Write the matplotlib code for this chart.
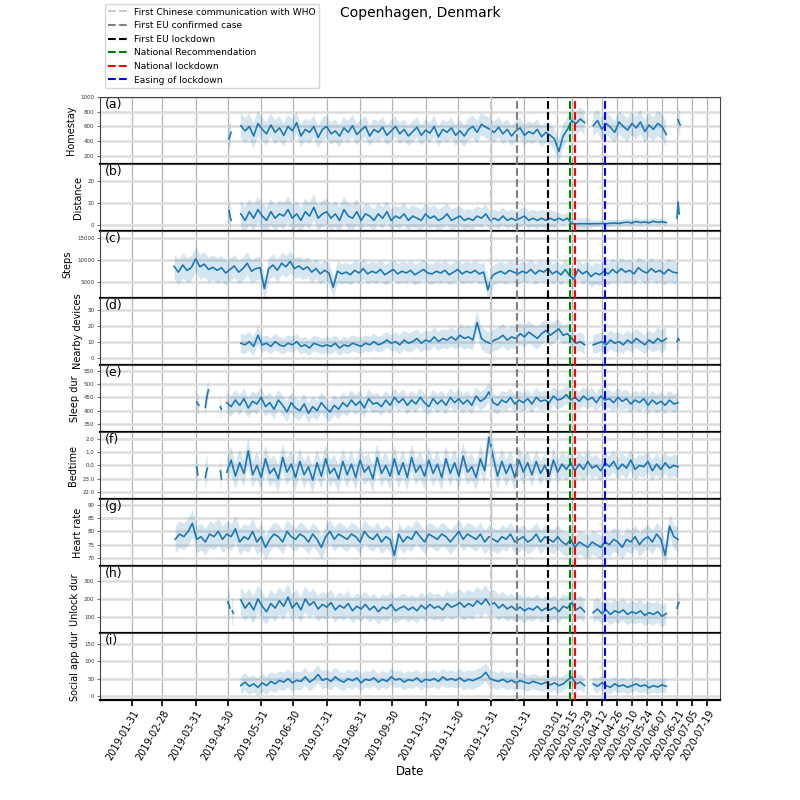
import numpy as np
import pandas as pd
import matplotlib
matplotlib.use('Agg')
import matplotlib.pyplot as plt
from matplotlib.lines import Line2D

N = np.nan

# ---------------- event lines ----------------
event_dates = ['2019-12-31', '2020-01-24', '2020-02-22', '2020-03-13', '2020-03-18', '2020-04-15']
event_labels = ['First Chinese communication with WHO', 'First EU confirmed case', 'First EU lockdown',
                'National Recommendation', 'National lockdown', 'Easing of lockdown']
event_colors = ['#c8c8c8', 'gray', 'black', 'green', 'red', 'blue']

tick_dates = ['2019-01-31', '2019-02-28', '2019-03-31', '2019-04-30', '2019-05-31', '2019-06-30',
              '2019-07-31', '2019-08-31', '2019-09-30', '2019-10-31', '2019-11-30', '2019-12-31',
              '2020-01-31', '2020-03-01', '2020-03-15', '2020-03-29', '2020-04-12', '2020-04-26',
              '2020-05-10', '2020-05-24', '2020-06-07', '2020-06-21', '2020-07-05', '2020-07-19']

# ---------------- series (segments: start date, step in days, values) ----------------
homestay_segments = [
    ('2019-05-01', 1, [430, 480, 520]),
    ('2019-05-12', 4, [610, 540, 600, 470, 640, 560, 500, 620, 520, 580,
                       480, 600, 540, 650, 470, 560, 520, 600, 450, 560,
                       600, 500, 540, 470, 580, 520, 610, 490, 550, 600,
                       470, 560, 520, 590, 480, 540, 600, 500, 560, 470,
                       530, 590, 480, 550, 510, 600, 460, 560, 520, 580,
                       480, 540, 470, 560, 600, 520, 630, 590, 560, 520,
                       590, 500, 560, 470, 540, 580, 480, 530, 500, 560,
                       460, 520, 480, 430, 260, 470, 560, 680, 640, 700,
                       650, N, 610, 680, 560, 640, 590, 520, 660, 600,
                       550, 640, 580, 660, 530, 620, 560, 640, 600, 490]),
    ('2020-06-22', 1, [690, 650, 620]),
]
homestay_sd = ('2019-05', [170, 160, 150, 150, 140, 140, 140, 150, 140, 140, 160, 150, 160, 170])

distance_segments = [
    ('2019-05-01', 1, [6.5, 4, 2]),
    ('2019-05-12', 4, [5, 2, 6, 3, 7, 4, 2, 6, 3, 5,
                       4, 7, 3, 5, 2, 6, 4, 8, 3, 5,
                       6, 3, 5, 2, 7, 4, 3, 6, 2, 5,
                       4, 2, 5, 3, 6, 2, 4, 3, 5, 2,
                       4, 3, 2, 5, 3, 4, 2, 3, 5, 2,
                       3, 4, 2, 3, 2, 4, 3, 5, 2, 3,
                       2, 4, 2, 3, 2, 3, 4, 2, 3, 2,
                       3, 2, 3, 2, 3, 2, 3, 0.5, 0.4, 0.5,
                       0.5, 0.4, 0.5, 0.5, 0.6, 0.5, 0.7, 0.8, 0.6, 1.0,
                       1.2, 0.8, 1.5, 1.0, 1.3, 0.9, 1.6, 1.1, 1.4, 1.0]),
    ('2020-06-21', 1, [3, 10.5, 5]),
]
distance_sd = ('2019-05', [6, 6, 6, 6, 5, 5, 5, 4.5, 4, 4, 2.5, 1.5, 1.5, 1.5])

steps_segments = [
    ('2019-03-11', 4, [8500, 7200, 8800, 7600, 8200, 10200, 8400, 9000, 7800, 8300,
                       7600, 8200, 7000, 7800, 8600, 7200, 8000, 9200, 7400, 8000,
                       8200, 3500, 8000, 8800, 7600, 9200, 8400, 9600, 8000, 8600,
                       7800, 8400, 7200, 8000, 6800, 7600, 7000, 3800, 7400, 6800,
                       7200, 6600, 7600, 7000, 8000, 6800, 7400, 7000, 7800, 6600,
                       7200, 7800, 6800, 7400, 7000, 7600, 6600, 7200, 7800, 7000,
                       6800, 7400, 7000, 7600, 6600, 7200, 7800, 6800, 7400, 7000,
                       7600, 6800, 7200, 3200, 6400, 7000, 7400, 6800, 7600, 7200,
                       6800, 7400, 7000, 7800, 6800, 7600, 7200, 8000, 6800, 7400,
                       6600, 7800, 6400, 5600, 7800, 6800, 7400, 6200, 7000, 6600,
                       7400, 6800, 7800, 7000, 8000, 7200, 7600, 6800, 8200, 7400,
                       7000, 8000, 7200, 7600, 6800, 7800, 7200, 7000]),
]
steps_sd = ('2019-03', [2800, 2800, 2600, 2500, 2300, 2300, 2300, 2300, 2300, 2300, 2300, 2300, 2300, 2500, 2500, 2500])

devices_segments = [
    ('2019-05-12', 4, [9, 8, 10, 7, 14, 8, 9, 7, 10, 8,
                       7, 9, 8, 10, 7, 8, 6, 9, 8, 7,
                       8, 7, 9, 6, 8, 7, 9, 8, 7, 9,
                       8, 10, 8, 9, 11, 9, 10, 8, 11, 9,
                       10, 12, 9, 11, 10, 13, 10, 12, 11, 13,
                       11, 14, 12, 13, 11, 22, 12, 10, 9, 11,
                       12, 14, 11, 13, 12, 15, 13, 16, 14, 12,
                       15, 17, 14, 16, 18, 14, 15, 12, 9, 10,
                       8, N, 8, 9, 10, 8, 11, 9, 10, 8,
                       11, 9, 12, 10, 8, 11, 9, 12, 10, 12]),
    ('2020-06-21', 1, [10, 12, 11]),
]
devices_sd = ('2019-05', [6, 5, 5, 5, 5, 6, 6, 7, 7, 7, 6, 6, 6, 7])

sleep_segments = [
    ('2019-04-01', 1, [432, 426, 420]),
    ('2019-04-09', 1, [412, 440, 462, 478]),
    ('2019-04-23', 1, [415, 405]),
    ('2019-04-29', 4, [430, 415, 440, 420, 445, 410, 435, 425, 450, 415,
                       430, 405, 440, 420, 395, 430, 410, 400, 425, 390,
                       415, 400, 430, 410, 395, 420, 405, 430, 415, 440,
                       420, 435, 410, 445, 425, 430, 415, 440, 420, 450,
                       430, 445, 420, 440, 425, 450, 430, 415, 445, 425,
                       440, 420, 450, 430, 445, 425, 440, 420, 455, 435,
                       445, 470, 430, 420, 440, 430, 450, 425, 440, 430,
                       445, 425, 450, 435, 440, 430, 455, 440, 445, 460,
                       440, 450, 435, 455, 440, 450, 430, 455, 440, 445,
                       430, 450, 435, 445, 425, 440, 430, 445, 420, 440,
                       425, 435, 420, 440, 425, 430]),
]
sleep_sd = ('2019-04', [38, 38, 38, 38, 38, 35, 35, 35, 35, 35, 35, 35, 35, 35, 35])

bedtime_segments = [
    ('2019-04-01', 1, [-0.1, -0.7]),
    ('2019-04-09', 1, [-0.9, -0.5, -0.2]),
    ('2019-04-23', 1, [-0.4, -1.0]),
    ('2019-04-29', 4, [-0.5, 0.4, -0.8, 0.2, -0.6, 1.1, -0.7, 0.0, -0.9, 0.5,
                       -0.6, -0.2, -1.0, 0.6, -0.5, 0.1, -0.9, 0.3, -0.7, -0.1,
                       -1.1, 0.2, -0.8, 0.5, -0.6, -0.2, -1.0, 0.3, -0.7, 0.1,
                       -0.9, 0.4, -0.5, -0.1, -1.0, 0.6, -0.6, 0.0, -0.8, 0.5,
                       -0.7, 0.2, -0.9, 0.6, -0.5, 0.0, -0.8, 0.4, -0.6, 0.1,
                       -0.9, 0.5, -0.6, 0.2, -0.8, 0.7, -0.5, -0.1, -0.9, 0.5,
                       -0.4, 2.1, 0.6, -0.8, 0.3, -0.6, 0.1, -0.9, 0.4, -0.5,
                       0.2, -0.7, 0.3, -0.6, 0.0, -0.8, 0.4, -0.5, 0.1, -0.3,
                       0.2, -0.4, 0.1, -0.3, 0.3, -0.2, 0.0, -0.4, 0.2, -0.1,
                       0.3, -0.3, 0.1, -0.2, 0.4, -0.3, 0.0, -0.1, 0.3, -0.4,
                       0.1, -0.3, 0.2, -0.2, 0.0, -0.1]),
]
bedtime_sd = ('2019-04', [1.0, 1.0, 1.0, 1.0, 1.0, 1.0, 1.0, 1.0, 1.0, 1.0, 0.9, 0.9, 0.8, 0.8, 0.8])

heart_segments = [
    ('2019-03-12', 4, [77, 79, 78, 80, 83, 77, 78, 76, 79, 78,
                       80, 77, 79, 78, 81, 76, 78, 77, 80, 76,
                       78, 74, 77, 79, 78, 76, 80, 78, 77, 79,
                       78, 76, 79, 77, 74, 78, 80, 77, 79, 78,
                       77, 79, 78, 76, 80, 78, 77, 79, 76, 78,
                       77, 71, 79, 76, 78, 77, 80, 78, 76, 79,
                       78, 77, 79, 78, 76, 78, 80, 77, 79, 78,
                       77, 79, 76, 78, 77, 76, 78, 77, 79, 76,
                       77, 78, 76, 77, 79, 76, 78, 77, 76, 78,
                       76, 75, 77, 74, 76, 75, 74, 76, 75, 74,
                       76, 75, 77, 76, 74, 77, 76, 78, 75, 77,
                       78, 76, 79, 77, 71, 82, 78, 77]),
]
heart_sd = ('2019-03', [5, 5, 5, 4.5, 4.5, 4.5, 4.5, 4.5, 4.5, 4.5, 4.5, 4.5, 4.5, 4.5, 4.5, 4.5])

unlock_segments = [
    ('2019-04-30', 1, [185, 165, 150, N, 135, 122]),
    ('2019-05-12', 4, [195, 150, 180, 140, 200, 160, 130, 175, 150, 190,
                       160, 210, 150, 180, 140, 200, 165, 185, 145, 170,
                       155, 180, 140, 165, 150, 175, 135, 160, 145, 170,
                       140, 160, 130, 155, 145, 170, 135, 150, 160, 140,
                       155, 135, 165, 145, 170, 150, 160, 140, 175, 155,
                       165, 180, 155, 175, 160, 190, 170, 200, 165, 180,
                       150, 170, 145, 160, 140, 155, 135, 150, 140, 160,
                       135, 150, 140, 155, 130, 160, 150, 180, 140, 155,
                       130, N, 125, 145, 120, 140, 115, 135, 125, 140,
                       115, 130, 120, 135, 110, 125, 115, 130, 105, 120]),
    ('2020-06-21', 1, [150, 170, 180]),
]
unlock_sd = ('2019-05', [75, 75, 70, 70, 70, 70, 70, 75, 70, 65, 65, 60, 60, 60])

social_segments = [
    ('2019-05-12', 4, [30, 40, 28, 35, 25, 38, 30, 42, 35, 45,
                       40, 50, 38, 45, 42, 55, 40, 48, 62, 45,
                       50, 42, 55, 45, 40, 50, 44, 52, 38, 48,
                       45, 52, 40, 48, 42, 55, 46, 50, 40, 47,
                       44, 52, 40, 48, 45, 50, 42, 55, 46, 50,
                       45, 52, 42, 48, 44, 50, 55, 68, 50, 45,
                       42, 48, 40, 45, 38, 44, 40, 36, 42, 38,
                       34, 40, 32, 38, 30, 35, 45, 55, 35, 40,
                       30, N, 35, 28, 38, 30, 25, 35, 28, 32,
                       25, 30, 35, 28, 32, 24, 30, 26, 32, 28]),
]
social_sd = ('2019-05', [25, 26, 26, 26, 24, 24, 24, 26, 24, 22, 22, 20, 20, 20])

panels = [
    ('(a)', 'Homestay', homestay_segments, homestay_sd, [200, 400, 600, 800, 1000], None, (95, 1000)),
    ('(b)', 'Distance', distance_segments, distance_sd, [0, 10, 20], None, (-2.8, 28)),
    ('(c)', 'Steps', steps_segments, steps_sd, [5000, 10000, 15000], None, (1400, 16500)),
    ('(d)', 'Nearby devices', devices_segments, devices_sd, [0, 10, 20, 30], None, (-4.6, 37.5)),
    ('(e)', 'Sleep dur', sleep_segments, sleep_sd, [350, 400, 450, 500, 550], None, (320, 572)),
    ('(f)', 'Bedtime', bedtime_segments, bedtime_sd, [-2, -1, 0, 1, 2],
     ['22.0', '23.0', '0.0', '1.0', '2.0'], (-2.5, 2.5)),
    ('(g)', 'Heart rate', heart_segments, heart_sd, [70, 75, 80, 85, 90], None, (67, 92.2)),
    ('(h)', 'Unlock dur', unlock_segments, unlock_sd, [100, 200, 300], None, (14, 380)),
    ('(i)', 'Social app dur', social_segments, social_sd, [0, 50, 100, 150], None, (-11, 180)),
]


def build(segments):
    xs, ys = [], []
    for start, step, vals in segments:
        d = pd.Timestamp(start) + pd.to_timedelta(np.arange(len(vals)) * step, unit='D')
        xs.extend(list(d))
        ys.extend(vals)
        xs.append(d[-1] + pd.Timedelta(days=1))
        ys.append(np.nan)
    return pd.DatetimeIndex(xs), np.array(ys, dtype=float)


def spread(x, sd):
    start, vals = sd
    s0 = (int(start[:4]) - 2019) * 12 + int(start[5:7]) - 1
    idx = (x.year - 2019) * 12 + x.month - 1 - s0
    idx = np.clip(np.asarray(idx), 0, len(vals) - 1)
    return np.asarray(vals, dtype=float)[idx]


color = '#1f77b4'
fig, axes = plt.subplots(len(panels), 1, sharex=True, figsize=(8, 8), dpi=100)
fig.subplots_adjust(left=0.125, right=0.9, top=0.879, bottom=0.125, hspace=0)

xticks = pd.to_datetime(tick_dates)
for ax, (tag, ylabel, segs, sd, yt, ytl, ylim) in zip(axes, panels):
    x, y = build(segs)
    s = spread(x, sd)
    ok = np.isfinite(y)
    ax.fill_between(x, np.where(ok, y - s, 0), np.where(ok, y + s, 0), where=ok,
                    color=color, alpha=0.18, linewidth=0, zorder=2)
    ax.plot(x, y, color=color, lw=1.2, zorder=3)
    for d, c in zip(event_dates, event_colors):
        ax.axvline(pd.Timestamp(d), color=c, ls='--', lw=1.5, zorder=4)
    ax.set_ylim(*ylim)
    ax.set_yticks(yt)
    if ytl is not None:
        ax.set_yticklabels(ytl)
    ax.set_ylabel(ylabel, fontsize=7, labelpad=3)
    ax.tick_params(axis='y', labelsize=4, length=2, width=0.5, pad=2, colors='#333333')
    ax.grid(axis='x', color='#b4b4b4', lw=0.9, zorder=0)
    ax.grid(axis='y', color='#dcdcdc', lw=1.8, zorder=0)
    ax.set_axisbelow(True)
    ax.text(0.008, 0.89, tag, transform=ax.transAxes, fontsize=9, va='center', ha='left')
    for side in ('left', 'right', 'top'):
        ax.spines[side].set_color('#444444')
        ax.spines[side].set_linewidth(0.8)
    ax.spines['bottom'].set_color('black')
    ax.spines['bottom'].set_linewidth(1.6)
    ax.tick_params(axis='x', length=0)

axb = axes[-1]
axb.set_xticks(xticks)
axb.set_xticklabels(tick_dates, rotation=60, ha='right', rotation_mode='anchor', fontsize=7)
axb.tick_params(axis='x', length=4, width=1.2, color='black', pad=2)
axb.set_xlim(pd.Timestamp('2019-01-01'), pd.Timestamp('2020-07-31'))
axb.set_xlabel('Date', fontsize=8.5, labelpad=2)

handles = [Line2D([0], [0], color=c, ls='--', lw=1.5) for c in event_colors]
fig.legend(handles, event_labels, loc='upper left', bbox_to_anchor=(0.131, 0.995),
           fontsize=6.6, frameon=True, borderaxespad=0)
fig.text(0.525, 0.984, 'Copenhagen, Denmark', ha='center', va='center', fontsize=10)

fig.savefig('out.png', dpi=100)
